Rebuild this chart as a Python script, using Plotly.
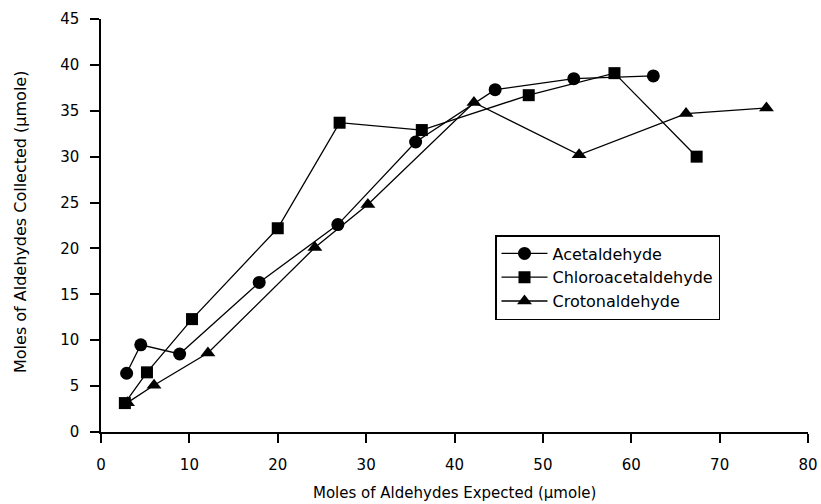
import plotly.graph_objects as go

acet_x = [2.9, 4.5, 8.9, 17.9, 26.8, 35.6, 44.6, 53.5, 62.5]
acet_y = [6.4, 9.5, 8.5, 16.3, 22.6, 31.6, 37.3, 38.5, 38.8]

chloro_x = [2.7, 5.2, 10.3, 20.0, 27.0, 36.3, 48.4, 58.1, 67.4]
chloro_y = [3.15, 6.5, 12.3, 22.2, 33.7, 32.9, 36.7, 39.1, 30.0]

croton_x = [3.0, 6.0, 12.1, 24.2, 30.2, 42.2, 54.1, 66.2, 75.3]
croton_y = [3.2, 5.1, 8.6, 20.1, 24.8, 35.9, 30.2, 34.7, 35.3]

x_ticks = [0, 10, 20, 30, 40, 50, 60, 70, 80]
y_ticks = [0, 5, 10, 15, 20, 25, 30, 35, 40, 45]

x_title = "Moles of Aldehydes Expected (μmole)"
y_title = "Moles of Aldehydes Collected (μmole)"

FONT = "DejaVu Sans, Liberation Sans, Arial, sans-serif"

fig = go.Figure()
series = [
    ("Acetaldehyde", acet_x, acet_y, "circle", 13),
    ("Chloroacetaldehyde", chloro_x, chloro_y, "square", 12),
    ("Crotonaldehyde", croton_x, croton_y, "triangle-up", 13),
]
for name, xs, ys, sym, sz in series:
    fig.add_trace(go.Scatter(
        x=xs, y=ys, name=name, mode="lines+markers",
        line=dict(color="black", width=1.3),
        marker=dict(symbol=sym, size=sz, color="black"),
        cliponaxis=False,
    ))

L, R, T, B = 101, 13, 19, 72
W, H = 821, 504
pw, ph = W - L - R, H - T - B

fig.update_layout(
    width=W, height=H,
    margin=dict(l=L, r=R, t=T, b=B, autoexpand=False),
    paper_bgcolor="white", plot_bgcolor="white",
    font=dict(family=FONT, size=15, color="black"),
    showlegend=True,
    legend=dict(
        x=(495 - L) / pw, y=(H - B - 235) / ph, xanchor="left", yanchor="top",
        bordercolor="black", borderwidth=1.5, bgcolor="white",
        font=dict(family=FONT, size=16, color="black"),
        itemwidth=46, tracegroupgap=0,
    ),
    annotations=[
        dict(text=x_title, xref="paper", yref="paper",
             x=0.5, y=(H - B - 493) / ph, xanchor="center", yanchor="middle",
             showarrow=False, font=dict(family=FONT, size=15)),
        dict(text=y_title, xref="paper", yref="paper",
             x=(20 - L) / pw, y=(H - B - 222) / ph, xanchor="center", yanchor="middle",
             textangle=-90, showarrow=False, font=dict(family=FONT, size=16)),
    ],
)
fig.update_xaxes(
    range=[0, 80], tickvals=x_ticks, ticktext=[str(v) for v in x_ticks],
    showgrid=False, zeroline=False, showline=True, linecolor="black", linewidth=1.5,
    ticks="outside", ticklen=9, tickwidth=1.5, tickcolor="black",
    tickfont=dict(family=FONT, size=15), ticklabelstandoff=9,
    automargin=False,
)
fig.update_yaxes(
    range=[0, 45], tickvals=y_ticks, ticktext=[str(v) for v in y_ticks],
    showgrid=False, zeroline=False, showline=True, linecolor="black", linewidth=1.5,
    ticks="outside", ticklen=9, tickwidth=1.5, tickcolor="black",
    tickfont=dict(family=FONT, size=15), ticklabelstandoff=8,
    automargin=False,
)

fig.write_html(
    "out.html",
    config={"displayModeBar": False},
    post_script="document.body.style.margin='0';document.body.style.overflow='hidden';",
)
